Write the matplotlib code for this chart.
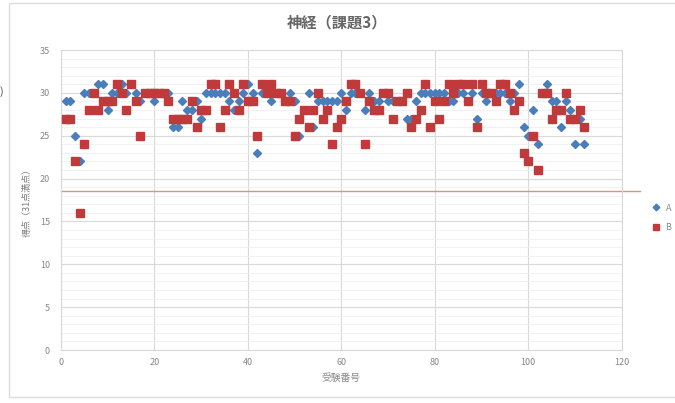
import numpy as np
import matplotlib
matplotlib.use("Agg")
import matplotlib.pyplot as plt
from matplotlib.patches import Rectangle

plt.rcParams['font.family'] = ['Noto Sans CJK JP', 'DejaVu Sans']

# scores per examinee (1..112)
a_scores = [29, 29, 25, 22, 30, 30, 30, 31, 31, 28,
            30, 30, 31, 30, 31, 30, 29, 30, 30, 29,
            30, 30, 30, 26, 26, 29, 28, 28, 29, 27,
            30, 30, 30, 30, 30, 29, 28, 29, 30, 31,
            30, 23, 30, 30, 29, 30, 30, 29, 30, 29,
            25, 28, 30, 26, 29, 29, 29, 29, 29, 30,
            28, 30, 30, 30, 28, 30, 29, 29, 30, 29,
            29, 29, 29, 27, 27, 29, 30, 30, 30, 30,
            30, 30, 29, 29, 30, 30, 31, 30, 27, 30,
            29, 30, 30, 30, 30, 29, 30, 31, 26, 25,
            28, 24, 30, 31, 29, 29, 26, 29, 28, 24,
            27, 24]
b_scores = [27, 27, 22, 16, 24, 28, 30, 28, 29, 29,
            29, 31, 30, 28, 31, 29, 25, 30, 30, 30,
            30, 30, 29, 27, 27, 27, 27, 29, 26, 28,
            28, 31, 31, 26, 28, 31, 30, 28, 31, 29,
            29, 25, 31, 30, 31, 30, 30, 29, 29, 25,
            27, 28, 26, 28, 30, 27, 28, 24, 26, 27,
            29, 31, 31, 30, 24, 29, 28, 28, 30, 30,
            27, 29, 29, 30, 26, 27, 28, 31, 26, 29,
            27, 29, 31, 30, 31, 31, 29, 31, 26, 31,
            30, 30, 29, 31, 31, 30, 28, 29, 23, 22,
            25, 21, 30, 30, 27, 28, 28, 30, 27, 27,
            28, 26]
examinee = np.arange(1, len(a_scores) + 1)
threshold = 18.5

fig = plt.figure(figsize=(6.75, 4.03), dpi=100)
ax = fig.add_axes([61/675, 1-350/403, (621.7-61)/675, 300/403])

ax.set_xlim(0, 120)
ax.set_ylim(0, 35)
ax.set_xticks(range(0, 121, 20))
ax.set_yticks(range(0, 36, 5))
ax.set_yticks(range(0, 36, 1), minor=True)
ax.grid(True, which='major', color='#d9d9d9', lw=0.8)
ax.grid(True, which='minor', axis='y', color='#efefef', lw=0.6)
ax.set_axisbelow(True)
for s in ax.spines.values():
    s.set_color('#d9d9d9')
    s.set_linewidth(0.8)
ax.tick_params(which='both', length=0, labelsize=6.5, labelcolor='#888888', pad=6)
ax.tick_params(axis='y', pad=8)

ax.plot(examinee, a_scores, ls='none', marker='D', ms=4.5, color='#4a7ebb', label='A', zorder=3)
ax.plot(examinee, b_scores, ls='none', marker='s', ms=5.6, color='#c0393b', label='B', zorder=3)

ax.axhline(threshold, xmin=0, xmax=1.033, color='#e58a8a', lw=1.0, clip_on=False, zorder=2)

ax.set_xlabel('受験番号', fontsize=7, color='#888888', labelpad=4)
ax.set_ylabel('得点（31点満点）', fontsize=6.5, color='#777777', labelpad=6)
fig.text(337/675, 1-22/403, '神経（課題3）', ha='center', va='center',
         fontsize=11, fontweight='bold', color='#666666')

leg = ax.legend(loc='center left', bbox_to_anchor=(1.03, 0.44), frameon=False,
                fontsize=6.5, handletextpad=0.1, labelspacing=1.2, markerscale=0.75)
for t in leg.get_texts():
    t.set_color('#888888')

# chart area frame and stray mark at left edge
fig.patches.append(Rectangle((9/675, 6/403), 700/675, 394/403, transform=fig.transFigure,
                             fill=False, edgecolor='#dddddd', lw=1.0))
fig.text(0.0, 1-92/403, ')', fontsize=8, color='#555555', va='center', ha='left')

fig.savefig('out.png', dpi=100)
